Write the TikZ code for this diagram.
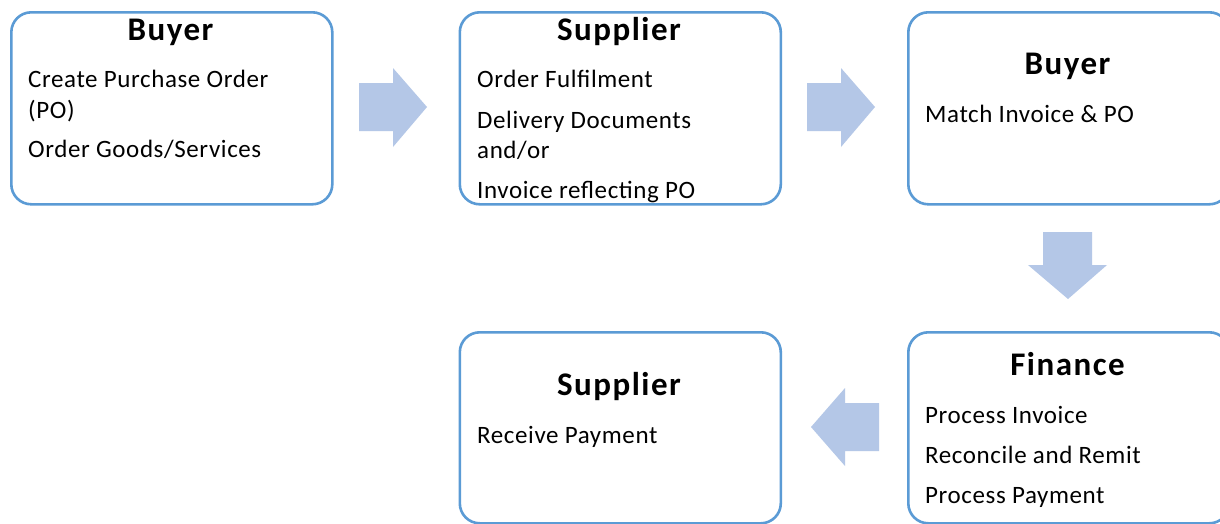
\documentclass[tikz,border=0pt]{standalone}
\usepackage{fontspec}
\setmainfont{Carlito}
\newfontfamily\bodyfont[LetterSpace=2.4]{Carlito}
\newfontfamily\titlefont[LetterSpace=4.5]{Carlito}
\definecolor{boxblue}{HTML}{5B9BD5}
\definecolor{arrowblue}{HTML}{B4C7E7}
\begin{document}
\begin{tikzpicture}[x=1pt,y=-1pt,
  box/.style={draw=boxblue, line width=2.6pt, rounded corners=20pt, fill=white,
    minimum width=321pt, minimum height=192pt, anchor=north west, inner sep=0pt},
  title/.style={font=\titlefont\bfseries\fontsize{33}{38}\selectfont, anchor=base, inner sep=0pt},
  body/.style={font=\bodyfont\fontsize{25}{30}\selectfont, anchor=base west, inner sep=0pt},
  blockarrow/.style={fill=arrowblue, draw=none}]
\useasboundingbox (0,0) rectangle (1220,523);
\clip (0,0) rectangle (1220,523);
\fill[white] (0,0) rectangle (1220,523);
% boxes
\node[box] (b1) at (10,11) {};
\node[box] (b2) at (458.5,11) {};
\node[box] (b3) at (907,11) {};
\node[box, minimum height=191pt] (b4) at (907,331) {};
\node[box, minimum height=191pt] (b5) at (458.5,331) {};
% box 1
\node[title] (t1) at (170.5,40) {Buyer};
\node[body] (l11) at (28,87) {Create Purchase Order};
\node[body] (l12) at (28,118) {(PO)};
\node[body] (l13) at (28,157) {Order Goods/Services};
% box 2
\node[title] (t2) at (619,40) {Supplier};
\node[body] (l21) at (477,87) {Order Fulfilment};
\node[body] (l22) at (477,128) {Delivery Documents};
\node[body] (l23) at (477,158) {and/or};
\node[body] (l24) at (477,198) {Invoice reflecting PO};
% box 3
\node[title] (t3) at (1067.5,74) {Buyer};
\node[body] (l31) at (925,122) {Match Invoice \& PO};
% box 4
\node[title] (t4) at (1067.5,375) {Finance};
\node[body] (l41) at (925,423) {Process Invoice};
\node[body] (l42) at (925,463) {Reconcile and Remit};
\node[body] (l43) at (925,503) {Process Payment};
% box 5
\node[title] (t5) at (619,395) {Supplier};
\node[body] (l51) at (477,443) {Receive Payment};
% block arrows
\fill[blockarrow] (359,83) -- (393,83) -- (393,68) -- (427,107) -- (393,147) -- (393,131) -- (359,131) -- cycle;
\fill[blockarrow] (807,83) -- (841,83) -- (841,68) -- (875,107) -- (841,147) -- (841,131) -- (807,131) -- cycle;
\fill[blockarrow] (1043,232) -- (1092,232) -- (1092,265) -- (1107,265) -- (1068,299) -- (1028,265) -- (1043,265) -- cycle;
\fill[blockarrow] (879,403) -- (845,403) -- (845,388) -- (811,427) -- (845,466) -- (845,451) -- (879,451) -- cycle;
\end{tikzpicture}
\end{document}
